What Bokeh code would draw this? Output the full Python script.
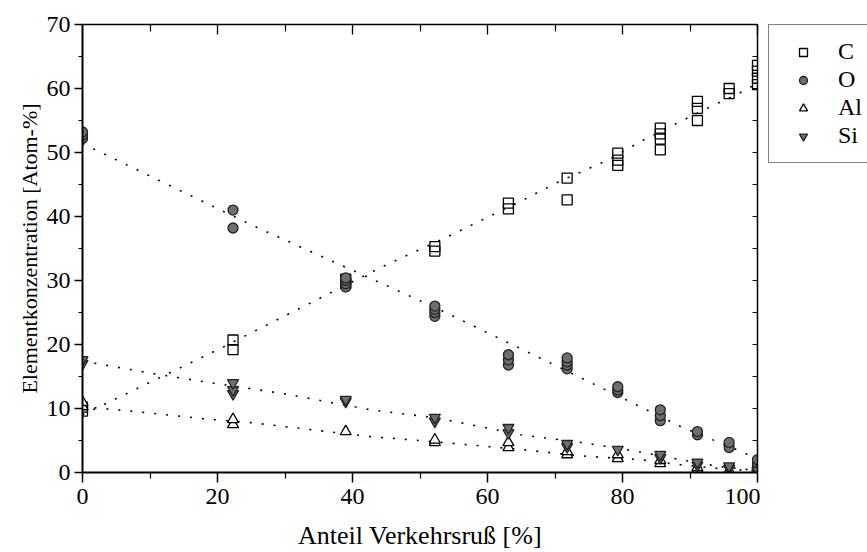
from bokeh.plotting import figure
from bokeh.layouts import row
from bokeh.models import Range1d, LinearAxis, Legend, LegendItem, FixedTicker
from bokeh.embed import file_html
from bokeh.resources import INLINE

# ---- data ----
C_x = [0, 0, 22.3, 22.3, 39, 39, 52.2, 52.2, 63.1, 63.1, 71.8, 71.8, 79.3, 79.3, 79.3,
       85.6, 85.6, 85.6, 85.6, 91.1, 91.1, 91.1, 95.8, 95.8, 100, 100, 100, 100]
C_y = [9.6, 10.2, 19.2, 20.7, 29.5, 30.2, 34.6, 35.3, 41.2, 42.1, 42.6, 46.0, 48.0, 48.8, 49.9,
       50.4, 52.1, 52.9, 53.8, 55.0, 56.9, 58.0, 59.2, 60.0, 60.6, 61.6, 62.7, 63.6]

O_x = [0, 0, 0, 22.3, 22.3, 39, 39, 39, 39, 52.2, 52.2, 52.2, 52.2, 63.1, 63.1, 63.1,
       71.8, 71.8, 71.8, 71.8, 79.3, 79.3, 79.3, 85.6, 85.6, 85.6, 91.1, 91.1, 95.8, 95.8,
       100, 100, 100]
O_y = [52.2, 52.7, 53.2, 38.2, 41.0, 29.0, 29.5, 30.0, 30.4, 24.4, 25.0, 25.5, 26.0, 16.8, 17.6, 18.4,
       16.2, 16.8, 17.3, 17.9, 12.5, 12.9, 13.4, 8.1, 8.9, 9.8, 5.9, 6.4, 3.9, 4.7,
       1.0, 1.4, 2.0]

Al_x = [0, 0, 22.3, 22.3, 39, 52.2, 52.2, 63.1, 63.1, 71.8, 71.8, 79.3, 79.3, 85.6, 85.6,
        91.1, 91.1, 95.8, 95.8, 100, 100]
Al_y = [10.3, 11.0, 7.5, 8.3, 6.4, 4.7, 5.1, 3.9, 4.7, 2.8, 3.3, 2.2, 2.8, 1.4, 1.9,
        0.5, 0.8, 0.2, 0.3, 0.0, 0.1]

Si_x = [0, 0, 22.3, 22.3, 22.3, 39, 39, 52.2, 52.2, 63.1, 63.1, 71.8, 71.8, 79.3, 85.6, 85.6,
        91.1, 91.1, 95.8, 95.8, 100, 100]
Si_y = [17.0, 17.6, 12.3, 12.9, 14.0, 11.1, 11.4, 8.0, 8.6, 6.2, 7.0, 4.0, 4.5, 3.6, 2.3, 2.8,
        1.1, 1.6, 0.6, 1.0, 0.1, 0.3]

# trend curves
C_fit_x = [0, 10.8, 19.7, 33.8, 44.1, 53.0, 58.5, 65.3, 70.5, 77.8, 83.0, 88.3, 93.5, 97.2, 100]
C_fit_y = [9.0, 14.5, 19.0, 26.5, 32.0, 36.3, 39.1, 42.6, 45.4, 48.8, 51.9, 54.7, 57.4, 59.2, 60.8]
O_fit_x = [0, 25, 52, 71.3, 88.6, 100]
O_fit_y = [51.4, 38.7, 25.9, 16.1, 7.2, 2.2]
Si_fit_x = [0, 10.8, 17.9, 24.9, 29.3, 42.7, 51.1, 55, 64.9, 73.8, 82.2, 88.6, 94.5, 100]
Si_fit_y = [17.4, 15.4, 14.2, 13.1, 12.4, 9.8, 8.7, 8.0, 5.9, 4.7, 3.3, 2.0, 0.9, 0.3]
Al_fit_x = [0, 9, 17.9, 24.9, 42.7, 51.1, 64.9, 73.8, 82.7, 88.6, 94.5, 100]
Al_fit_y = [10.3, 9.4, 8.4, 7.8, 5.6, 4.9, 3.6, 2.6, 2.0, 1.2, 0.6, 0.2]

labels = ["C", "O", "Al", "Si"]
x_ticks = [0, 20, 40, 60, 80, 100]
y_ticks = [0, 10, 20, 30, 40, 50, 60, 70]

FONT = "Liberation Serif"

series = [(C_x, C_y), (O_x, O_y), (Al_x, Al_y), (Si_x, Si_y)]

# marker styles (shared by the plot and the legend panel)
styles = [
    dict(marker="square", size=10, line_color="black", line_width=1.3, fill_alpha=0),
    dict(marker="circle", size=10, line_color="#222222", line_width=1.3, fill_color="#6e6e6e"),
    dict(marker="triangle", size=11, line_color="black", line_width=1.3, fill_color="white"),
    dict(marker="inverted_triangle", size=11, line_color="#222222", line_width=1.3,
         fill_color="#6e6e6e"),
]

p = figure(width=760, height=552, output_backend="svg", toolbar_location=None,
           x_range=Range1d(0, 100), y_range=Range1d(0, 70),
           min_border_left=82, min_border_right=3, min_border_top=24, min_border_bottom=79,
           background_fill_color="white", border_fill_color="white")
p.outline_line_color = None
p.xgrid.visible = False
p.ygrid.visible = False

# dotted trend lines
dash = "2 10"
for fx, fy in [(C_fit_x, C_fit_y), (O_fit_x, O_fit_y), (Si_fit_x, Si_fit_y), (Al_fit_x, Al_fit_y)]:
    p.line(fx, fy, line_color="black", line_width=1.6, line_dash=dash)

for (xs, ys), st in zip(series, styles):
    p.scatter(xs, ys, **st)

# axes
xa = p.xaxis[0]
ya = p.yaxis[0]
for ax in (xa, ya):
    ax.major_label_text_font = FONT
    ax.major_label_text_font_size = "24px"
    ax.major_label_text_color = "black"
    ax.axis_label_text_font = FONT
    ax.axis_label_text_font_style = "normal"
    ax.axis_label_text_color = "black"
    ax.axis_line_color = "black"
    ax.axis_line_width = 2
    ax.major_tick_line_color = "black"
    ax.minor_tick_line_color = "black"
    ax.major_tick_line_width = 1.5
    ax.minor_tick_line_width = 1.2
    ax.major_tick_in = 0
    ax.minor_tick_in = 0

xa.ticker = FixedTicker(ticks=x_ticks, minor_ticks=[10, 30, 50, 70, 90])
ya.ticker = FixedTicker(ticks=y_ticks, minor_ticks=[5, 15, 25, 35, 45, 55, 65])
xa.major_tick_out = 10
xa.minor_tick_out = 6
ya.major_tick_out = 8
ya.minor_tick_out = 4
xa.major_label_standoff = 6
ya.major_label_standoff = 4
xa.axis_label = "Anteil Verkehrsruß [%]"
ya.axis_label = "Elementkonzentration [Atom-%]"
xa.axis_label_text_font_size = "26px"
ya.axis_label_text_font_size = "22px"
xa.axis_label_standoff = 14
ya.axis_label_standoff = 2

top = LinearAxis(ticker=FixedTicker(ticks=[20, 40, 60, 80, 100], minor_ticks=[10, 30, 50, 70, 90]),
                 major_label_text_font_size="0px", major_tick_in=10, major_tick_out=0,
                 minor_tick_in=7, minor_tick_out=0, axis_line_width=1.5,
                 major_tick_line_width=1.3, minor_tick_line_width=1.2,
                 major_label_standoff=0)
right = LinearAxis(ticker=FixedTicker(ticks=y_ticks, minor_ticks=[5, 15, 25, 35, 45, 55, 65]),
                   major_label_text_font_size="0px", major_tick_in=5, major_tick_out=0,
                   minor_tick_in=5, minor_tick_out=0, axis_line_width=1.5,
                   major_tick_line_width=1.2, minor_tick_line_width=1.2,
                   major_label_standoff=0)
p.add_layout(top, "above")
p.add_layout(right, "right")

# legend panel to the right of the plot (its ranges keep the copied points out of view)
p2 = figure(width=107, height=552, output_backend="svg", toolbar_location=None,
            x_range=Range1d(-200, -199), y_range=Range1d(-200, -199),
            x_axis_type=None, y_axis_type=None,
            min_border=0, background_fill_color="white", border_fill_color="white")
p2.outline_line_color = None
p2.grid.visible = False
leg_r = [p2.scatter(xs, ys, **st) for (xs, ys), st in zip(series, styles)]

legend = Legend(items=[LegendItem(label=lab, renderers=[r]) for lab, r in zip(labels, leg_r)],
                location=(8, 309), orientation="vertical",
                label_text_font=FONT, label_text_font_size="24px", label_text_color="black",
                glyph_width=42, glyph_height=20, label_height=20, spacing=1,
                label_standoff=14, padding=13, margin=0,
                border_line_color="black", border_line_width=1.3,
                background_fill_color="white", background_fill_alpha=1)
p2.add_layout(legend, "center")

layout = row(p, p2, spacing=0)
open("out.html", "w").write(file_html(layout, INLINE))
